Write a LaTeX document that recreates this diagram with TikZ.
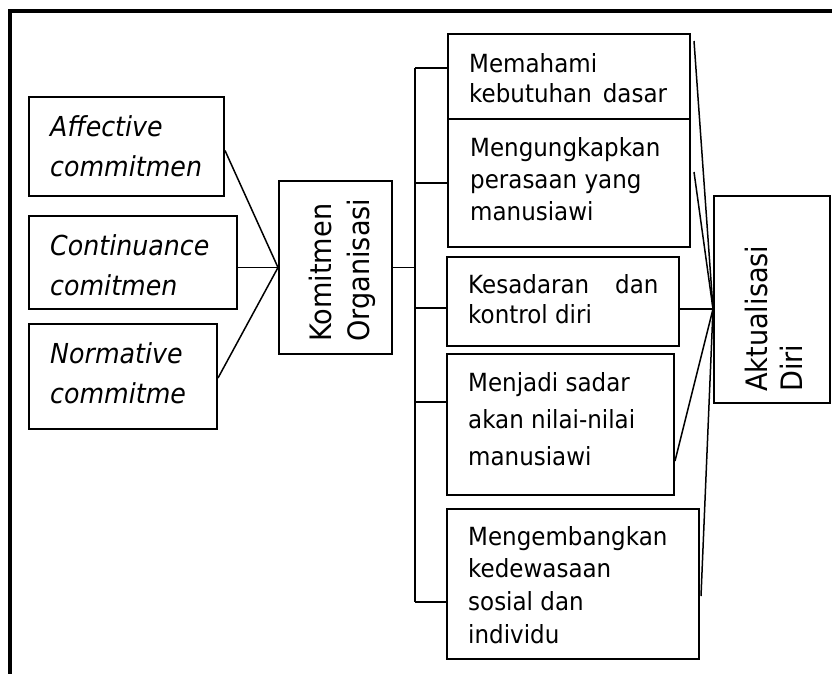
\documentclass[tikz,border=0pt]{standalone}
\usepackage{fontspec}
\setmainfont{DejaVu Sans}[FakeStretch=0.92]
\usepackage{tikz}

\begin{document}
\begin{tikzpicture}[x=1pt, y=-1pt,
		box/.style={draw, line width=2pt, fill=white, anchor=north west, inner sep=0pt},
		ltext/.style={anchor=north west, inner sep=0pt, align=left, font=\fontsize{27.5}{40}\selectfont\itshape},
		rtext/.style={anchor=north west, inner sep=0pt, align=left, font=\fontsize{25}{30}\selectfont},
		vtext/.style={rotate=90, anchor=west, inner sep=0pt, align=left, font=\fontsize{29.5}{38}\selectfont},
		link/.style={line width=1.5pt}]

				\useasboundingbox (0,0) rectangle (832,673);
				\draw[line width=3.5pt] (845,11) -- (10,11) -- (10,690);

				% kiri
				\node[box, minimum width=195, minimum height=99] (Affective) at (28,96) {};
				\node[box, minimum width=208, minimum height=93] (Continuance) at (28,215) {};
				\node[box, minimum width=188, minimum height=105] (Normative) at (28,323) {};
				\node[ltext] (AffText) at ([shift={(22,19.5)}]Affective.north west) {Affective\\commitmen};
				\node[ltext] (ConText) at ([shift={(22,19.5)}]Continuance.north west) {Continuance\\comitmen};
				\node[ltext] (NorText) at ([shift={(22,19.5)}]Normative.north west) {Normative\\commitme};

				% tengah
				\node[box, minimum width=113, minimum height=173] (KomOrg) at (278,180) {};
				\node[vtext] (KomText) at ([shift={(7,-13)}]KomOrg.south) {Komitmen\\Organisasi};

				% kanan
				\node[box, minimum width=242, minimum height=107] (Memahami) at (447,33) {};
				\node[rtext] (MemText) at ([shift={(22,20)}]Memahami.north west) {Memahami\\kebutuhan\hspace{11pt}dasar};
				\node[box, minimum width=242, minimum height=128] (Mengungkapkan) at (447,118) {};
				\node[rtext, font=\fontsize{25}{32}\selectfont] (UngText) at ([shift={(23,19.5)}]Mengungkapkan.north west) {Mengungkapkan\\perasaan yang\\manusiawi};
				\node[box, minimum width=232, minimum height=89] (Kesadaran) at (446,256) {};
				\node[rtext] (SadText) at ([shift={(22,18)}]Kesadaran.north west) {Kesadaran\hspace{26pt}dan\\kontrol diri};
				\node[box, minimum width=227, minimum height=141] (Menjadi) at (446,353) {};
				\node[rtext, font=\fontsize{25}{36.7}\selectfont] (JadiText) at ([shift={(22,19.5)}]Menjadi.north west) {Menjadi sadar\\akan nilai-nilai\\manusiawi};
				\node[box, minimum width=252, minimum height=150] (Mengembangkan) at (446,508) {};
				\node[rtext, font=\fontsize{25}{32.6}\selectfont] (KembText) at ([shift={(22,18)}]Mengembangkan.north west) {Mengembangkan\\kedewasaan\\sosial dan\\individu};

				\node[box, minimum width=116, minimum height=207] (Aktualisasi) at (713,195) {};
				\node[vtext, font=\fontsize{29.5}{35}\selectfont] (AktText) at ([shift={(1.5,-12)}]Aktualisasi.south) {Aktualisasi\\Diri};

				% garis
				\draw[link] ([shift={(0,4)}]Affective.east) -- (KomOrg.west);
				\draw[link] (Continuance.east |- KomOrg.west) -- (KomOrg.west);
				\draw[link] ([shift={(0,1.5)}]Normative.east) -- (KomOrg.west);

				\coordinate (TrunkTop) at (415,68);
				\coordinate (TrunkBot) at (415,602);
				\draw[link] (KomOrg.east) -- (TrunkTop |- KomOrg.east);
				\draw[link] (TrunkTop) -- (TrunkBot);
				\draw[link] (TrunkTop) -- (Memahami.west |- TrunkTop);
				\draw[link] (TrunkTop |- Mengungkapkan.west) -- (Mengungkapkan.west);
				\draw[link] (TrunkTop |- 0,308) -- (Kesadaran.west |- 0,308);
				\draw[link] (TrunkTop |- 0,402) -- (Menjadi.west |- 0,402);
				\draw[link] (TrunkBot) -- (Mengembangkan.west |- TrunkBot);

				\coordinate (Hub) at ([shift={(0,9.5)}]Aktualisasi.west);
				\draw[link] ([shift={(3,8)}]Memahami.north east) -- (Hub);
				\draw[link] ([shift={(3,54)}]Mengungkapkan.north east) -- (Hub);
				\draw[link] (Kesadaran.east |- Hub) -- (Hub);
				\draw[link] ([shift={(0,36.5)}]Menjadi.east) -- (Hub);
				\draw[link] ([shift={(1,12)}]Mengembangkan.east) -- (Hub);

			\end{tikzpicture}
\end{document}
